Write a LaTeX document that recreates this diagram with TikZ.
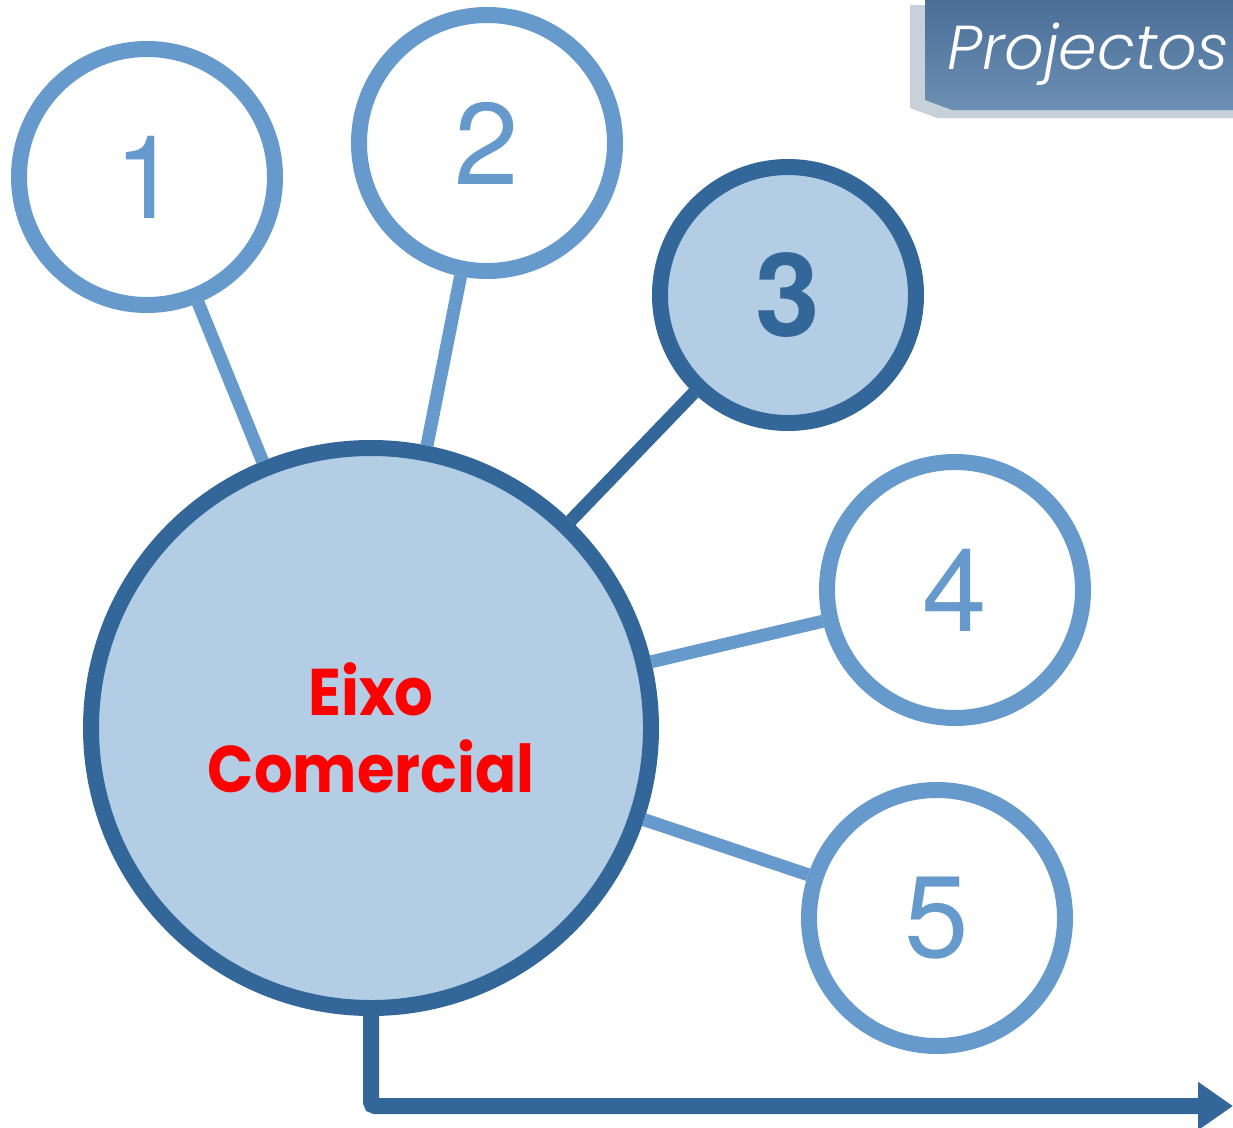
\documentclass[tikz,border=0pt]{standalone}
\usepackage{fontspec}
\setmainfont{TeX Gyre Heros}
\newfontfamily\hubfont{Poppins}[FakeStretch=0.92]
\newfontfamily\tagfont{Poppins Light Italic}
\usetikzlibrary{positioning, arrows.meta}

\definecolor{lightline}{RGB}{102,153,204}
\definecolor{darkline}{RGB}{51,102,153}
\definecolor{hubfill}{RGB}{179,205,229}
\definecolor{tagtop}{RGB}{74,110,151}
\definecolor{tagbottom}{RGB}{108,143,179}
\definecolor{tagshadow}{RGB}{200,208,218}

\begin{document}
\begin{tikzpicture}[
      x=1pt, y=-1pt,
      project/.style={circle, draw=lightline, line width=16pt, minimum size=256pt, inner sep=0pt,
         text=lightline, font=\fontsize{116}{116}\selectfont},
      active/.style={project, draw=darkline, fill=hubfill, text=darkline,
         font=\fontsize{116}{116}\selectfont\bfseries},
      hub/.style={circle, draw=darkline, fill=hubfill, line width=16pt, minimum size=560pt, inner sep=0pt,
         align=center, text=red, font=\hubfont\bfseries\fontsize{66}{77}\selectfont},
      link/.style={line width=13pt, lightline},
      strong/.style={link, darkline},
      flow/.style={line width=16pt, darkline, rounded corners=4pt, -{Triangle[length=35pt,width=46pt]}},
      tag/.style={text=white, inner sep=0pt, font=\tagfont\fontsize{62}{62}\selectfont}
   ]
   \useasboundingbox (0,0) rectangle (1233,1127);

   % Title tab
   \fill[tagshadow] (910,5) -- (1233,5) -- (1233,118) -- (937,118) -- (910,108) -- cycle;
   \shade[top color=tagtop, bottom color=tagbottom] (925,0) -- (1233,0) -- (1233,110) -- (952,110) -- (925,100) -- cycle;
   \node[tag, anchor=base west] (tag) at (947,69) {Projectos};

   % Nodes for projects
   \node[hub] (hub) at (371,728) {Eixo\\Comercial};
   \node[project] (p1) at (147,177) {1};
   \node[project] (p2) at (487,143) {2};
   \node[active] (p3) at (788,295) {3};
   \node[project] (p4) at (955,590) {4};
   \node[project] (p5) at (937,918) {5};

   % Links to the hub
   \draw[link] (hub) -- (p1);
   \draw[link] (hub) -- (p2);
   \draw[strong] (hub) -- (p3);
   \draw[link] (hub) -- (p4);
   \draw[link] (hub) -- (p5);

   % Outgoing arrow
   \coordinate (out) at (1233,1106);
   \draw[flow] (hub.south) |- (out);
\end{tikzpicture}
\end{document}
